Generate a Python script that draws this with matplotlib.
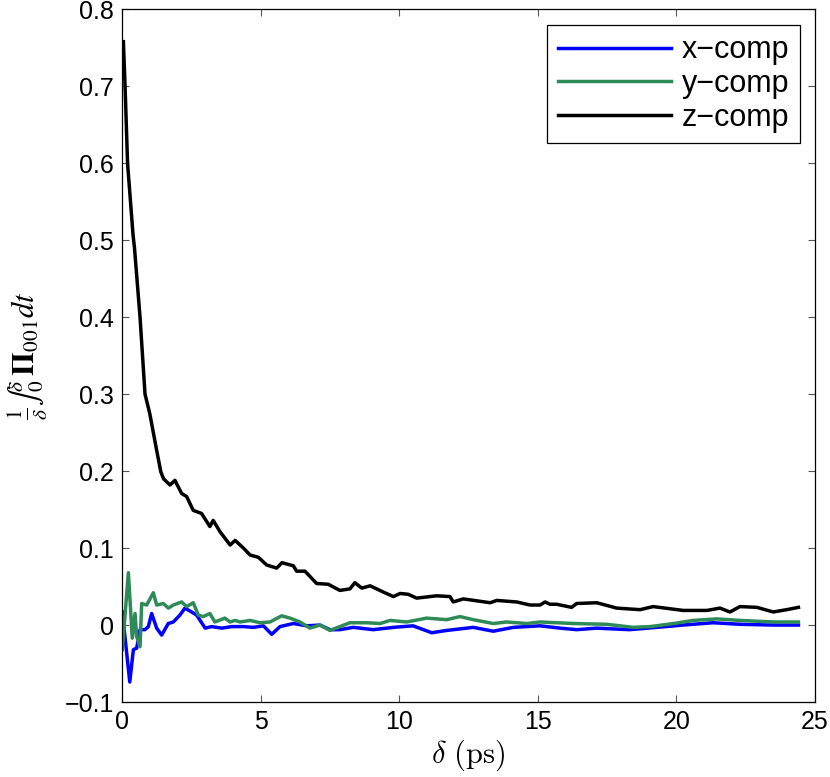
import matplotlib
import matplotlib.pyplot as plt

matplotlib.use("Agg")

plt.rcParams["font.family"] = ["Liberation Sans", "DejaVu Sans"]
plt.rcParams["mathtext.fontset"] = "cm"

z_t = [0.05, 0.11, 0.2, 0.4, 0.45, 0.65, 0.83, 1.0, 1.25, 1.4, 1.5, 1.73, 1.91, 2.15,
       2.33, 2.57, 2.87, 3.17, 3.29, 3.54, 3.9, 4.08, 4.38, 4.62, 4.92, 5.22, 5.58,
       5.77, 6.18, 6.3, 6.6, 7.02, 7.44, 7.86, 8.22, 8.4, 8.65, 8.95, 9.42, 9.79,
       10.03, 10.32, 10.63, 11.35, 11.83, 11.95, 12.31, 13.28, 13.52, 14.24, 14.72,
       15.08, 15.26, 15.44, 15.68, 16.22, 16.4, 17.12, 17.85, 18.69, 19.16, 20.24,
       21.1, 21.57, 21.93, 22.29, 22.9, 23.49, 23.98, 24.4]
z_val = [0.758, 0.70, 0.60, 0.506, 0.49, 0.40, 0.30, 0.275, 0.227, 0.199, 0.19, 0.182,
         0.188, 0.171, 0.167, 0.149, 0.145, 0.128, 0.136, 0.121, 0.104, 0.110, 0.100,
         0.091, 0.088, 0.078, 0.074, 0.081, 0.077, 0.070, 0.070, 0.054, 0.053, 0.045,
         0.047, 0.055, 0.048, 0.051, 0.043, 0.037, 0.041, 0.040, 0.035, 0.038, 0.037,
         0.030, 0.034, 0.029, 0.032, 0.030, 0.026, 0.026, 0.030, 0.027, 0.027, 0.023,
         0.028, 0.029, 0.022, 0.020, 0.024, 0.019, 0.019, 0.022, 0.017, 0.024, 0.023,
         0.017, 0.020, 0.023]

y_t = [0.01, 0.23, 0.37, 0.47, 0.53, 0.65, 0.71, 0.89, 1.13, 1.25, 1.49, 1.67, 1.85,
       2.15, 2.33, 2.57, 2.75, 2.93, 3.17, 3.35, 3.71, 3.9, 4.08, 4.26, 4.62, 4.98,
       5.34, 5.76, 6.06, 6.42, 6.78, 7.14, 7.5, 7.86, 8.22, 8.83, 9.31, 9.67, 10.27,
       10.99, 11.71, 12.19, 12.67, 13.39, 13.87, 14.6, 15.08, 16.28, 17.48, 18.44,
       19.05, 19.9, 20.6, 21.45, 22.3, 23.49, 24.4]
y_val = [-0.032, 0.068, -0.017, 0.015, -0.015, -0.028, 0.028, 0.026, 0.042, 0.026,
         0.028, 0.022, 0.026, 0.030, 0.024, 0.029, 0.013, 0.011, 0.015, 0.004, 0.009,
         0.004, 0.006, 0.004, 0.006, 0.003, 0.004, 0.012, 0.009, 0.004, -0.004, 0.0,
         -0.007, -0.002, 0.003, 0.003, 0.002, 0.006, 0.004, 0.009, 0.007, 0.011, 0.007,
         0.002, 0.004, 0.002, 0.004, 0.002, 0.001, -0.003, -0.002, 0.002, 0.006, 0.008,
         0.006, 0.004, 0.004]

x_t = [0.01, 0.28, 0.41, 0.53, 0.65, 0.83, 0.95, 1.07, 1.25, 1.43, 1.67, 1.85, 2.09,
       2.27, 2.51, 2.69, 3.0, 3.23, 3.6, 3.96, 4.38, 4.74, 5.1, 5.4, 5.7, 6.18, 6.66,
       7.14, 7.5, 7.86, 8.34, 9.06, 9.79, 10.5, 11.17, 11.71, 12.67, 13.39, 14.12,
       15.08, 15.8, 16.4, 17.12, 18.3, 19.29, 20.24, 21.32, 22.29, 23.49, 24.4]
x_val = [0.017, -0.074, -0.032, -0.030, -0.006, -0.006, -0.002, 0.015, -0.004, -0.013,
         0.002, 0.004, 0.013, 0.022, 0.017, 0.013, -0.004, -0.002, -0.004, -0.002,
         -0.002, -0.003, -0.001, -0.012, -0.002, 0.002, -0.001, 0.0, -0.006, -0.006,
         -0.003, -0.006, -0.003, -0.001, -0.010, -0.007, -0.003, -0.008, -0.003, -0.001,
         -0.004, -0.006, -0.004, -0.006, -0.003, 0.0, 0.003, 0.001, 0.0, 0.0]

fig = plt.figure(figsize=(8.3, 7.77), dpi=100)
ax = fig.add_axes([0.147, 0.0965, 0.835, 0.8915])

ax.plot(x_t, x_val, color="#0000ff", lw=2.5, label="x\u2212comp")
ax.plot(y_t, y_val, color="#2e8b57", lw=2.5, label="y\u2212comp")
ax.plot(z_t, z_val, color="black", lw=2.5, label="z\u2212comp")

ax.set_xlim(0, 25)
ax.set_ylim(-0.1, 0.8)
ax.set_xticks([0, 5, 10, 15, 20, 25])
ax.set_yticks([-0.1, 0, 0.1, 0.2, 0.3, 0.4, 0.5, 0.6, 0.7, 0.8])
ax.set_yticklabels(["\u22120.1", "0", "0.1", "0.2", "0.3", "0.4", "0.5", "0.6", "0.7", "0.8"])
ax.tick_params(direction="in", length=5, width=0.8, color="#555555",
               top=True, right=True, labelsize=18, pad=6)
for sp in ax.spines.values():
    sp.set_linewidth(0.9)

ax.set_xlabel(r"$\delta\ (\mathrm{ps})$", fontsize=22, labelpad=2)
ax.set_ylabel("$\\frac{1}{\\delta}\u222b_0^\\delta\\, \\mathbf{\\Pi}_{001}dt$",
              fontsize=22, labelpad=10, math_fontfamily="stix")

leg = ax.legend(loc="upper right", fontsize=22, fancybox=False, framealpha=1,
                edgecolor="black", borderaxespad=0.5, handlelength=3.7,
                handletextpad=0.35, labelspacing=0.12, borderpad=0.35)
leg.get_frame().set_linewidth(0.9)

fig.savefig("out.png", dpi=100)
